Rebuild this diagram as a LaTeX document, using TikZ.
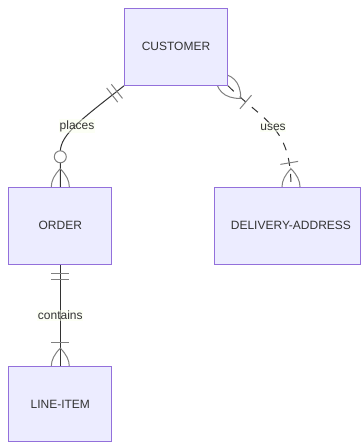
\documentclass[tikz,border=0pt]{standalone}
\usepackage{fontspec}
\setmainfont{Liberation Sans}
\usepackage{xcolor}
\usetikzlibrary{backgrounds,decorations.markings}

\definecolor{boxfill}{HTML}{ECECFF}
\definecolor{boxline}{HTML}{9370DB}
\definecolor{relline}{HTML}{333333}
\definecolor{erText}{HTML}{333333}
\definecolor{lblfill}{RGB}{249,255,236}
\newcommand{\erfont}{\fontsize{12pt}{14pt}\selectfont}

\tikzset{
    entity/.style={draw=boxline, fill=boxfill, line width=1pt, minimum width=103pt,
        minimum height=77pt, inner sep=0pt, text=erText, font=\erfont},
    rel/.style={draw=relline, line width=1pt},
    lbl/.style={fill=lblfill, fill opacity=0.5, text opacity=1, inner xsep=0.5pt,
        inner ysep=1.5pt, text=erText, font=\erfont},
    mk/.style={draw=gray, solid, line width=1pt},
    % crow's foot pieces
    one start/.style={postaction={decorate, decoration={markings,
        mark=at position 9pt with {\draw[mk] (0pt,-9pt) -- (0pt,9pt);},
        mark=at position 15pt with {\draw[mk] (0pt,-9pt) -- (0pt,9pt);}}}},
    zero many end/.style={postaction={decorate, decoration={markings,
        mark=at position -30pt with {\draw[mk, fill=white] (0pt,0pt) circle (6pt);},
        mark=at position 0.9999 with {\draw[mk] (-18pt,0pt) .. controls (-6pt,12pt) and (6pt,12pt) .. (18pt,0pt)
            .. controls (6pt,-12pt) and (-6pt,-12pt) .. cycle;}}}},
    many start/.style={postaction={decorate, decoration={markings,
        mark=at position 0.01pt with {\draw[mk] (-18pt,0pt) .. controls (-6pt,12pt) and (6pt,12pt) .. (18pt,0pt)
            .. controls (6pt,-12pt) and (-6pt,-12pt) .. cycle;},
        mark=at position 24pt with {\draw[mk] (0pt,-9pt) -- (0pt,9pt);}}}},
    many end/.style={postaction={decorate, decoration={markings,
        mark=at position -24pt with {\draw[mk] (0pt,-9pt) -- (0pt,9pt);},
        mark=at position 0.9999 with {\draw[mk] (-18pt,0pt) .. controls (-6pt,12pt) and (6pt,12pt) .. (18pt,0pt)
            .. controls (6pt,-12pt) and (-6pt,-12pt) .. cycle;}}}},
}

\begin{document}
\begin{tikzpicture}[x=1pt, y=-1pt]
    \useasboundingbox (0,0) rectangle (361,442);

    % Entities
    \node[entity] (customer) at (176,46.8) {CUSTOMER};
    \node[entity] (order) at (60.3,225.8) {ORDER};
    \node[entity, minimum width=146pt] (address) at (287.4,225.8) {\hspace*{7pt}DELIVERY-ADDRESS};
    \node[entity, minimum height=75pt] (lineitem) at (60.3,404.2) {LINE-ITEM};

    % Relationships
    \begin{pgfonlayer}{background}
    \draw[rel, one start, zero many end] (customer.south west)
        .. controls (83.8,117.6) and (60.3,134) .. node[lbl, midway, yshift=-2pt] (places) {places}
        ([yshift=35pt]order.north) -- (order.north);
    \draw[rel, dash pattern=on 8pt off 8pt, many start, many end] (customer.south east)
        .. controls (264.2,121.7) and (291,126.2) .. node[lbl, midway] (uses) {uses}
        ([xshift=3.6pt]address.north);
    \draw[rel, one start, many end] (order.south) -- node[lbl, midway] (contains) {contains} (lineitem.north);
    \end{pgfonlayer}
\end{tikzpicture}
\end{document}
